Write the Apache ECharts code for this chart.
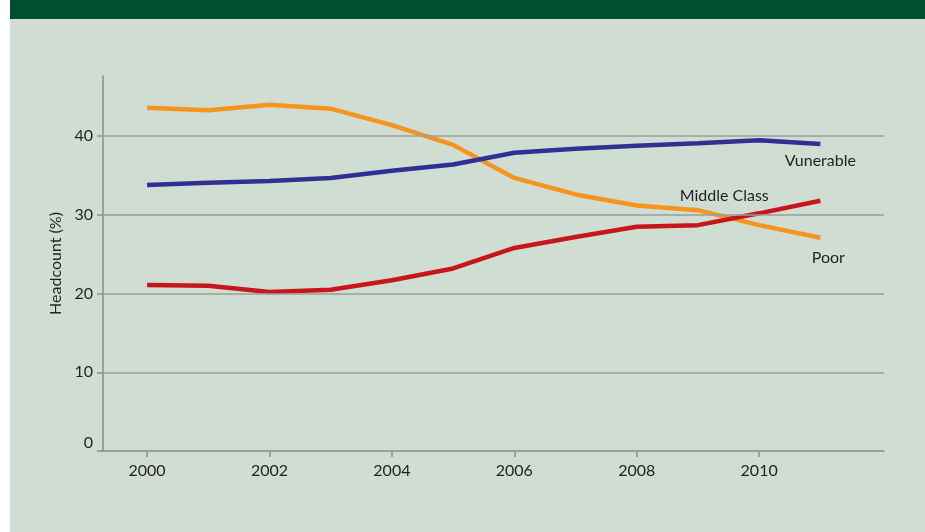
<!DOCTYPE html>
<html>
<head>
<meta charset="utf-8">
<script src="https://cdn.jsdelivr.net/npm/echarts@6/dist/echarts.min.js"></script>
<style>
  html, body { margin: 0; padding: 0; background: #ffffff; width: 925px; height: 532px; overflow: hidden; }
  #chart { position: absolute; left: 10px; top: 0; width: 915px; height: 532px; }
</style>
</head>
<body>
<div id="chart"></div>
<script>
const years = [2000, 2001, 2002, 2003, 2004, 2005, 2006, 2007, 2008, 2009, 2010, 2011];
const poor = [43.6, 43.3, 44.0, 43.5, 41.4, 38.9, 34.7, 32.6, 31.2, 30.6, 28.7, 27.1];
const vulnerable = [33.8, 34.1, 34.3, 34.7, 35.6, 36.4, 37.9, 38.4, 38.8, 39.1, 39.5, 39.0];
const middleClass = [21.1, 21.0, 20.2, 20.5, 21.7, 23.2, 25.8, 27.2, 28.5, 28.7, 30.2, 31.8];
const yearTicks = [2000, 2002, 2004, 2006, 2008, 2010];
const yTicks = [0, 10, 20, 30, 40];
const seriesNames = ['Poor', 'Vunerable', 'Middle Class'];

const FONT = 'Lato';
const FS = 16;
const TXT = '#231f20';
const AXIS = '#8a8d8c';

function pts(vals) { return years.map((y, i) => [y, vals[i]]); }

function annot(text, coord) {
  return {
    symbol: 'circle', symbolSize: 1, silent: true,
    itemStyle: { color: 'rgba(0,0,0,0)' },
    label: { show: true, position: 'inside', formatter: text, color: TXT, fontFamily: FONT, fontSize: FS },
    data: [{ coord: coord }]
  };
}

const chart = echarts.init(document.getElementById('chart'));
chart.setOption({
  backgroundColor: '#cfddd3',
  animation: false,
  graphic: [{
    type: 'rect', left: 0, top: 0, z: 100,
    shape: { width: 915, height: 19 },
    style: { fill: '#00502f' }
  }],
  grid: { left: 93, right: 41, top: 76, bottom: 81 },
  xAxis: {
    type: 'value', min: 1999.28, max: 2012.04,
    axisLine: { show: true, lineStyle: { color: AXIS, width: 1.5 } },
    axisTick: { show: true, length: 6, customValues: yearTicks, lineStyle: { color: AXIS, width: 1.5 } },
    axisLabel: { customValues: yearTicks, color: TXT, fontFamily: FONT, fontSize: FS, margin: 12, formatter: v => String(v) },
    splitLine: { show: false }
  },
  yAxis: {
    type: 'value', min: 0, max: 47.65,
    name: 'Headcount (%)', nameLocation: 'middle', nameGap: 39, nameRotate: 90,
    nameTextStyle: { color: TXT, fontFamily: FONT, fontSize: FS },
    axisLine: { show: true, lineStyle: { color: AXIS, width: 1.5 } },
    axisTick: { show: true, length: 6, customValues: yTicks, lineStyle: { color: AXIS, width: 1.5 } },
    axisLabel: {
      customValues: yTicks, color: TXT, fontFamily: FONT, fontSize: FS, margin: 10,
      formatter: v => v === 0 ? '{z|0}' : String(v),
      rich: { z: { color: TXT, fontFamily: FONT, fontSize: FS, padding: [0, 0, 16, 0] } }
    },
    splitLine: { show: false }
  },
  series: [
    {
      name: 'grid', type: 'line', data: [], silent: true,
      markLine: {
        symbol: 'none', silent: true, label: { show: false },
        lineStyle: { color: '#9a9c9b', width: 1.5, type: 'solid' },
        data: yTicks.filter(v => v > 0).map(v => ({ yAxis: v }))
      }
    },
    {
      name: seriesNames[0], type: 'line', data: pts(poor), showSymbol: false,
      lineStyle: { color: '#f7941d', width: 4.5 }, itemStyle: { color: '#f7941d' },
      markPoint: annot('Poor', [2011.13, 24.5])
    },
    {
      name: seriesNames[1], type: 'line', data: pts(vulnerable), showSymbol: false,
      lineStyle: { color: '#2e3192', width: 4.5 }, itemStyle: { color: '#2e3192' },
      markPoint: annot('Vunerable', [2011.0, 36.85])
    },
    {
      name: seriesNames[2], type: 'line', data: pts(middleClass), showSymbol: false,
      lineStyle: { color: '#c8161d', width: 4.5 }, itemStyle: { color: '#c8161d' },
      markPoint: annot('Middle Class', [2009.43, 32.4])
    }
  ]
});
</script>
</body>
</html>
